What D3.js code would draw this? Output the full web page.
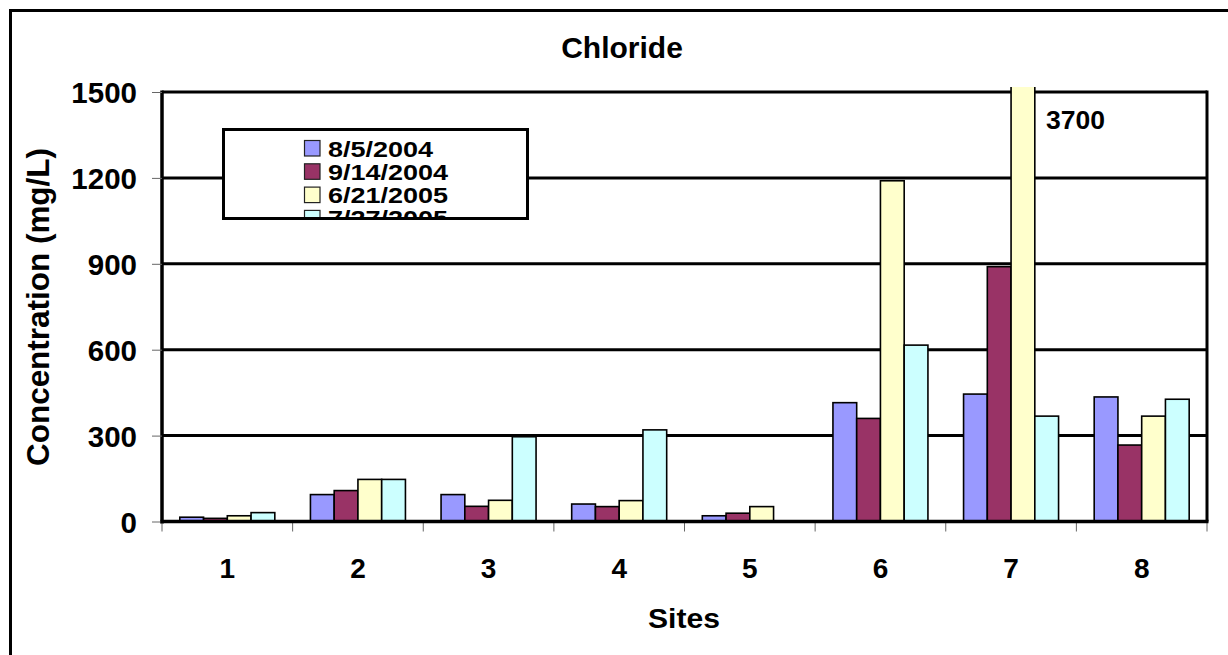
<!DOCTYPE html>
<html>
<head>
<meta charset="utf-8">
<script src="https://cdn.jsdelivr.net/npm/d3@7"></script>
<style>
  html, body { margin: 0; padding: 0; background: #fff; }
  svg { display: block; }
  text { font-family: "Liberation Sans", Arial, sans-serif; font-weight: bold; fill: #000; }
</style>
</head>
<body>
<svg id="chart" width="1228" height="655"></svg>
<script>
// ---- data ----
const sites = ["1", "2", "3", "4", "5", "6", "7", "8"];
const seriesNames = ["8/5/2004", "9/14/2004", "6/21/2005", "7/27/2005"];
const s_20040805 = [15, 94, 94, 61, 20, 415, 445, 435];
const s_20040914 = [11, 108, 53, 52, 29, 360, 890, 267];
const s_20050621 = [20, 147, 74, 73, 52, 1190, 3700, 368];
const s_20050727 = [31, 147, 296, 320, null, 616, 368, 427];
const seriesColors = ["#9999FF", "#993366", "#FFFFCC", "#CCFFFF"];
const yTicks = [0, 300, 600, 900, 1200, 1500];
const titleText = "Chloride";
const xTitle = "Sites";
const yTitle = "Concentration (mg/L)";
const offscaleLabel = "3700";

const seriesValues = [s_20040805, s_20040914, s_20050621, s_20050727];

// ---- layout ----
const svg = d3.select("#chart");
const plot = { left: 162, right: 1207, top: 92, bottom: 521.5 };

const x0 = d3.scaleBand().domain(sites).range([plot.left, plot.right]).padding(0);
const x1 = d3.scaleBand().domain(seriesNames).range([0, x0.bandwidth()]).paddingInner(0).paddingOuter(0.75);
const y = d3.scaleLinear().domain([0, 1500]).range([plot.bottom, plot.top]);

// outer frame
svg.append("rect")
  .attr("x", 10.5).attr("y", 10.5).attr("width", 1240).attr("height", 660)
  .attr("fill", "#fff").attr("stroke", "#000").attr("stroke-width", 3);

// title
svg.append("text").attr("x", 622).attr("y", 58).attr("text-anchor", "middle")
  .attr("font-size", 30).text(titleText);

// gridlines (including top border at 1500)
svg.append("g").selectAll("line").data(yTicks.filter(d => d > 0)).join("line")
  .attr("x1", plot.left).attr("x2", plot.right)
  .attr("y1", d => y(d)).attr("y2", d => y(d))
  .attr("stroke", "#000").attr("stroke-width", 3);

// bars
svg.append("defs").append("clipPath").attr("id", "barclip")
  .append("rect").attr("x", plot.left).attr("y", 87)
  .attr("width", plot.right - plot.left).attr("height", plot.bottom - 87 + 2);

const barData = [];
sites.forEach((s, i) => {
  seriesNames.forEach((n, j) => {
    const v = seriesValues[j][i];
    if (v !== null && v !== undefined) barData.push({ site: s, series: n, value: v, color: seriesColors[j] });
  });
});

svg.append("g").attr("clip-path", "url(#barclip)")
  .selectAll("rect").data(barData).join("rect")
  .attr("x", d => x0(d.site) + x1(d.series))
  .attr("width", x1.bandwidth())
  .attr("y", d => y(d.value))
  .attr("height", d => plot.bottom - y(d.value))
  .attr("fill", d => d.color)
  .attr("stroke", "#000").attr("stroke-width", 1.6);

// right border
svg.append("line").attr("x1", plot.right).attr("x2", plot.right)
  .attr("y1", plot.top - 1.5).attr("y2", plot.bottom)
  .attr("stroke", "#000").attr("stroke-width", 3);

// y axis
const yAxis = d3.axisLeft(y).tickValues(yTicks).tickSize(10).tickPadding(15).tickFormat(d3.format("d"));
const gy = svg.append("g").attr("transform", `translate(${plot.left},0)`).call(yAxis);
gy.select(".domain").attr("stroke", "#000").attr("stroke-width", 3.5)
  .attr("d", `M0,${plot.top - 1.5}V${plot.bottom + 2}`);
gy.selectAll(".tick line").attr("stroke", "#666").attr("stroke-width", 1);
gy.selectAll(".tick text").attr("font-size", 29.5).attr("font-family", "Liberation Sans, Arial, sans-serif")
  .attr("font-weight", "bold").attr("fill", "#000").attr("dy", "0.36em");

// x axis
const boundaries = sites.map(s => x0(s)).concat([plot.right]);
svg.append("g").selectAll("line").data(boundaries).join("line")
  .attr("x1", d => d).attr("x2", d => d)
  .attr("y1", plot.bottom).attr("y2", plot.bottom + 10)
  .attr("stroke", "#666").attr("stroke-width", 1);
svg.append("line").attr("x1", plot.left - 1.5).attr("x2", plot.right + 1.5)
  .attr("y1", plot.bottom).attr("y2", plot.bottom)
  .attr("stroke", "#000").attr("stroke-width", 3.5);
const xAxis = d3.axisBottom(x0).tickSize(0).tickPadding(0);
const gx = svg.append("g").attr("transform", `translate(0,${plot.bottom})`).call(xAxis);
gx.select(".domain").remove();
gx.selectAll(".tick text").attr("font-size", 28).attr("font-family", "Liberation Sans, Arial, sans-serif")
  .attr("font-weight", "bold").attr("fill", "#000").attr("dy", null).attr("y", 56.5);

// axis titles
svg.append("text").attr("x", 684).attr("y", 628).attr("text-anchor", "middle")
  .attr("font-size", 28).attr("textLength", 72).attr("lengthAdjust", "spacingAndGlyphs").text(xTitle);
svg.append("text").attr("transform", `translate(49,307) rotate(-90)`).attr("text-anchor", "middle")
  .attr("font-size", 31).attr("textLength", 318).attr("lengthAdjust", "spacingAndGlyphs").text(yTitle);

// off-scale label
svg.append("text").attr("x", 1046).attr("y", 129).attr("font-size", 26.5).text(offscaleLabel);

// legend
const lg = { x: 223.5, y: 129.5, w: 304, h: 89 };
svg.append("defs").append("clipPath").attr("id", "legclip")
  .append("rect").attr("x", lg.x + 1.5).attr("y", lg.y + 1.5).attr("width", lg.w - 3).attr("height", lg.h - 3);
svg.append("rect").attr("x", lg.x).attr("y", lg.y).attr("width", lg.w).attr("height", lg.h)
  .attr("fill", "#fff").attr("stroke", "#000").attr("stroke-width", 3);
const legItems = svg.append("g").attr("clip-path", "url(#legclip)")
  .selectAll("g").data(seriesNames).join("g")
  .attr("transform", (d, i) => `translate(304, ${156.5 + i * 23.3})`);
legItems.append("rect").attr("x", 0.5).attr("y", -16).attr("width", 15.5).attr("height", 15.5)
  .attr("fill", (d, i) => seriesColors[i]).attr("stroke", "#222").attr("stroke-width", 1.2);
legItems.append("text").attr("transform", "translate(24,0) scale(1,0.8)")
  .attr("font-size", 27).text(d => d);
</script>
</body>
</html>
